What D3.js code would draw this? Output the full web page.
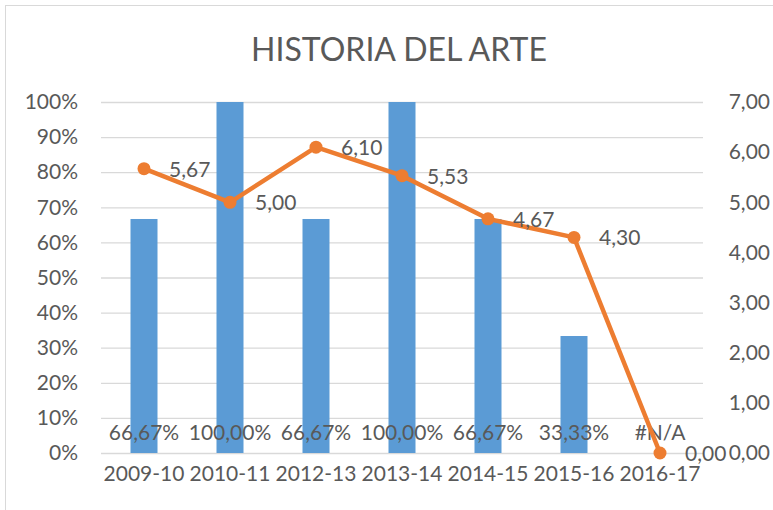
<!DOCTYPE html>
<html>
<head>
<meta charset="utf-8">
<script src="https://cdn.jsdelivr.net/npm/d3@7"></script>
<style>
  body { margin: 0; background: #fff; }
  text { font-family: Lato, "Open Sans", sans-serif; fill: #595959; }
</style>
</head>
<body>
<div id="chart"></div>
<script>
// data
const years = ["2009-10", "2010-11", "2012-13", "2013-14", "2014-15", "2015-16", "2016-17"]
const pctValues = [66.67, 100, 66.67, 100, 66.67, 33.33, null]
const gradeValues = [5.67, 5.00, 6.10, 5.53, 4.67, 4.30, 0]
const pctTicks = [0, 10, 20, 30, 40, 50, 60, 70, 80, 90, 100]
const gradeTicks = [0, 1, 2, 3, 4, 5, 6, 7]

const comma = v => d3.format(".2f")(v).replace(".", ",")

// 1. dimensions
let dimensions = {
  width: 773,
  height: 510,
  margin: { top: 102, right: 70, bottom: 57, left: 101 },
}
dimensions.boundedWidth = dimensions.width - dimensions.margin.left - dimensions.margin.right
dimensions.boundedHeight = dimensions.height - dimensions.margin.top - dimensions.margin.bottom

// 2. canvas
const wrapper = d3.select("#chart")
  .append("svg")
    .attr("width", dimensions.width)
    .attr("height", dimensions.height)

wrapper.append("rect")
  .attr("x", 5.5).attr("y", 5.5)
  .attr("width", 800).attr("height", 520)
  .attr("fill", "#fff")
  .attr("stroke", "#d9d9d9")

wrapper.append("text")
  .attr("x", 399).attr("y", 61)
  .attr("text-anchor", "middle")
  .style("font-size", "32px")
  .text("HISTORIA DEL ARTE")

const bounds = wrapper.append("g")
  .attr("transform", `translate(${dimensions.margin.left},${dimensions.margin.top})`)

// 3. scales
const xScale = d3.scaleBand()
  .domain(years)
  .range([0, dimensions.boundedWidth])

const yLeft = d3.scaleLinear()
  .domain([0, 100])
  .range([dimensions.boundedHeight, 0])

const yRight = d3.scaleLinear()
  .domain([0, 7])
  .range([dimensions.boundedHeight, 0])

// 4. gridlines + axes
const leftAxis = bounds.append("g")
  .call(d3.axisLeft(yLeft).tickValues(pctTicks).tickFormat(d => d + "%")
    .tickSize(-dimensions.boundedWidth).tickPadding(23))
leftAxis.select(".domain").remove()
leftAxis.selectAll("line").attr("stroke", "#d9d9d9").attr("stroke-width", 1.3)
leftAxis.selectAll("text").style("font-size", "21px").attr("fill", "#595959")

const rightAxis = bounds.append("g")
  .attr("transform", `translate(${dimensions.boundedWidth},0)`)
  .call(d3.axisRight(yRight).tickValues(gradeTicks).tickFormat(comma).tickSize(0).tickPadding(67))
rightAxis.select(".domain").remove()
rightAxis.selectAll("text").style("font-size", "21px").attr("fill", "#595959")
  .attr("text-anchor", "end")

const xAxis = bounds.append("g")
  .attr("transform", `translate(0,${dimensions.boundedHeight})`)
  .call(d3.axisBottom(xScale).tickSize(0).tickPadding(13))
xAxis.select(".domain").remove()
xAxis.selectAll("text").style("font-size", "21px").attr("fill", "#595959")

// 5. bars
const barW = 27
const cx = d => xScale(d) + xScale.bandwidth() / 2

bounds.selectAll(".bar")
  .data(years.map((y, i) => ({ year: y, v: pctValues[i] })).filter(d => d.v != null))
  .join("rect")
    .attr("class", "bar")
    .attr("x", d => cx(d.year) - barW / 2)
    .attr("y", d => yLeft(d.v))
    .attr("width", barW)
    .attr("height", d => yLeft(0) - yLeft(d.v))
    .attr("fill", "#5b9bd5")

bounds.selectAll(".barlabel")
  .data(years)
  .join("text")
    .attr("class", "barlabel")
    .attr("x", d => cx(d))
    .attr("y", yLeft(3.8))
    .attr("text-anchor", "middle")
    .style("font-size", "21px")
    .text((d, i) => pctValues[i] == null ? "#N/A" : comma(pctValues[i]) + "%")

// 6. line
const points = years.map((y, i) => ({ year: y, v: gradeValues[i] }))

const lineGenerator = d3.line()
  .x(d => cx(d.year))
  .y(d => yRight(d.v))

bounds.append("path")
  .attr("d", lineGenerator(points))
  .attr("fill", "none")
  .attr("stroke", "#ed7d31")
  .attr("stroke-width", 4.5)
  .attr("stroke-linejoin", "round")

bounds.selectAll(".dot")
  .data(points)
  .join("circle")
    .attr("class", "dot")
    .attr("cx", d => cx(d.year))
    .attr("cy", d => yRight(d.v))
    .attr("r", 6.5)
    .attr("fill", "#ed7d31")

bounds.selectAll(".linelabel")
  .data(points)
  .join("text")
    .attr("class", "linelabel")
    .attr("x", d => cx(d.year) + 25)
    .attr("y", d => yRight(d.v) + 8)
    .style("font-size", "21px")
    .text(d => comma(d.v))
</script>
</body>
</html>
